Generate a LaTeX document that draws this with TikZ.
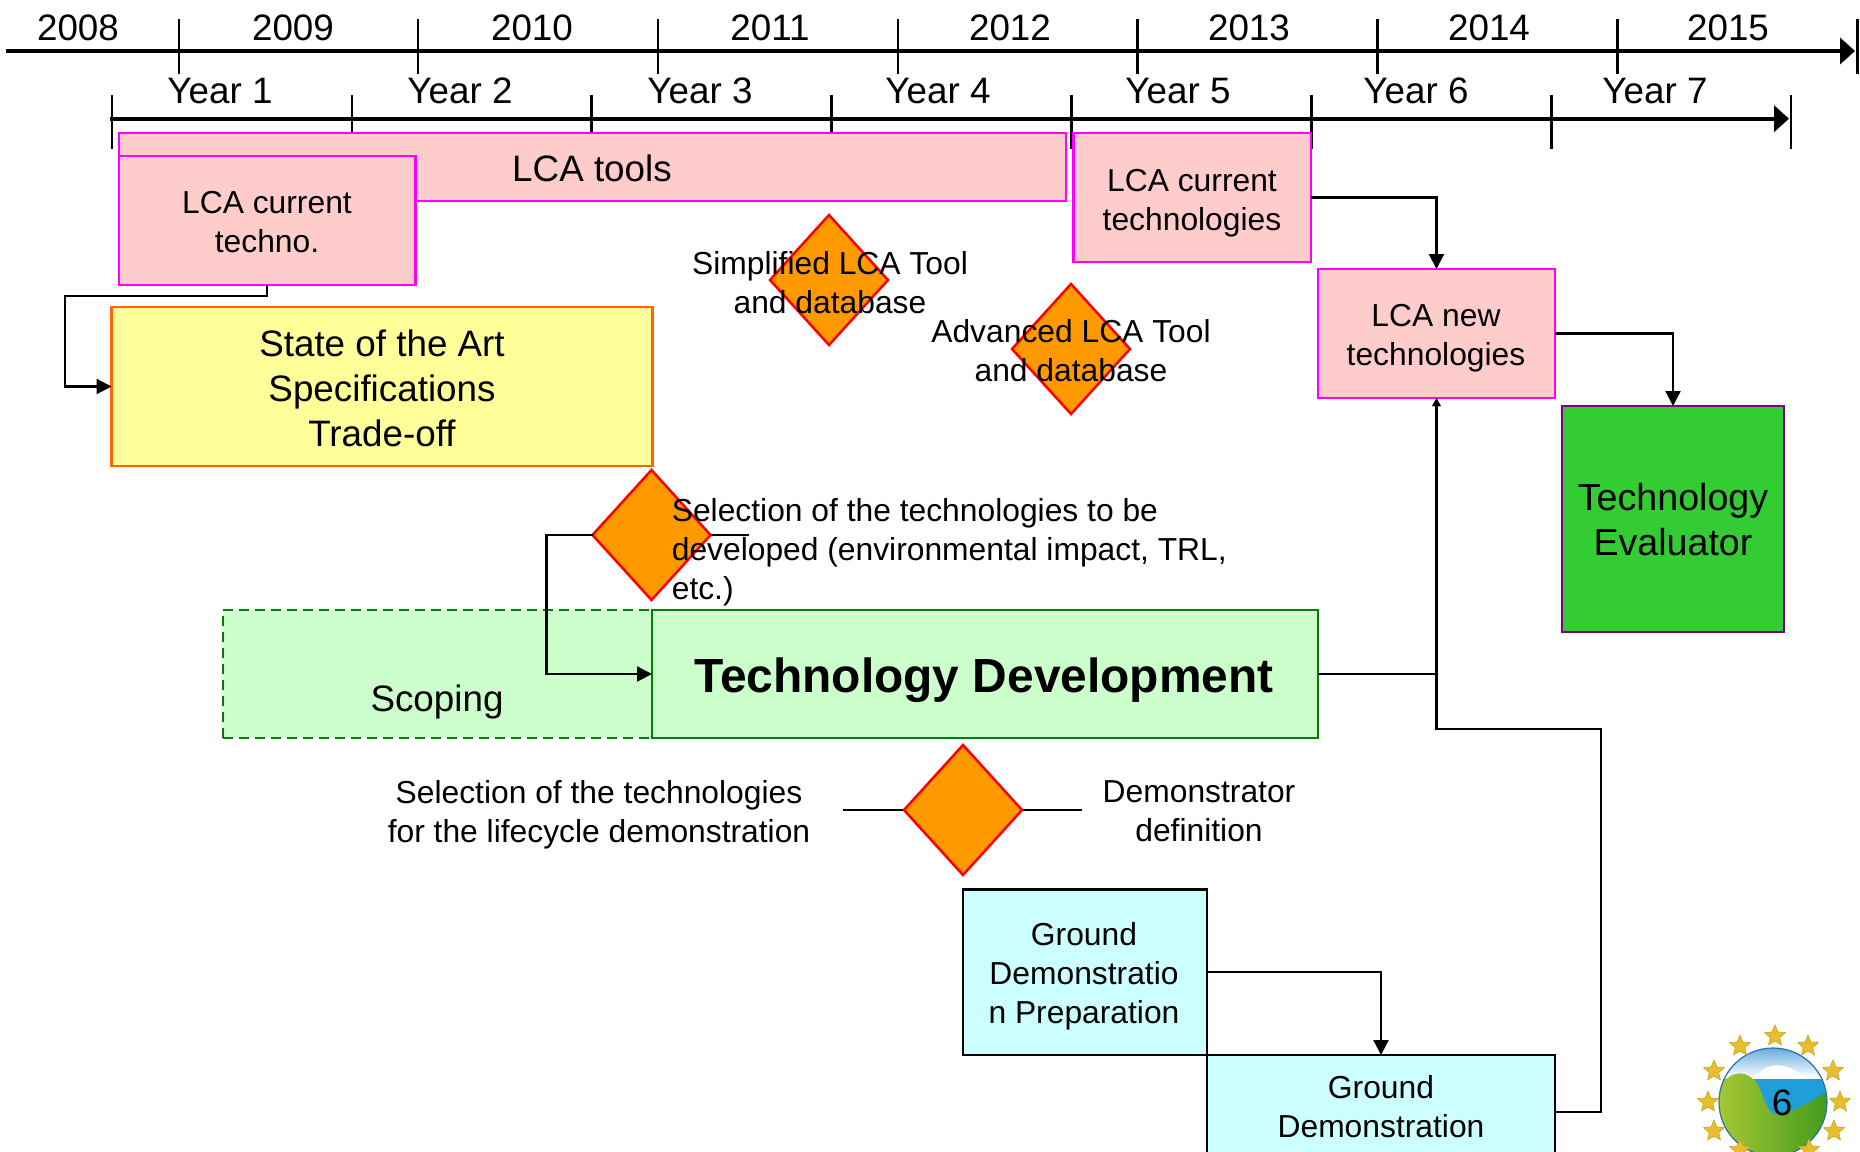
\documentclass[tikz,border=0pt]{standalone}
\usepackage{fontspec}
\setmainfont{Liberation Sans}
\usetikzlibrary{arrows.meta, positioning, shapes.geometric}

\definecolor{lcaline}{HTML}{FF00FF}
\definecolor{lcafill}{HTML}{FFCCCC}
\definecolor{artline}{HTML}{FF6600}
\definecolor{artfill}{HTML}{FFFF99}
\definecolor{devline}{HTML}{008000}
\definecolor{devfill}{HTML}{CCFFCC}
\definecolor{groundfill}{HTML}{CCFFFF}
\definecolor{evalline}{HTML}{800080}
\definecolor{evalfill}{HTML}{33CC33}
\definecolor{milestone}{HTML}{FF9900}
\definecolor{starfill}{HTML}{E8BE2C}
\definecolor{starline}{HTML}{C9A227}
\definecolor{skytop}{HTML}{5AA5DC}
\definecolor{water}{HTML}{1E9FD8}
\definecolor{hilllight}{HTML}{A9C936}
\definecolor{hilldark}{HTML}{3F9A1C}
\definecolor{globerim}{HTML}{2F6FA8}

\begin{document}
\begin{tikzpicture}[
    x = 0.5pt, y = -0.5pt, % one unit is one pixel of the slide
    > = {Triangle[length=7.5pt, width=7.5pt]}, % arrow head style
    line width = 1.15pt,
    font=\fontsize{15.9}{19.4}\selectfont
]

\tikzstyle{bigtext}=[font=\fontsize{18.4}{22.5}\selectfont, align=center]
\tikzstyle{smalltext}=[align=center]
\tikzstyle{axis}=[line width = 2pt]
\tikzstyle{yeartick}=[line width = 1.1pt]
\tikzstyle{box}=[rectangle, inner sep = 0pt, outer sep = 0pt, line width = 1.4pt, anchor=north west]
\tikzstyle{lca}=[box, draw = lcaline, fill = lcafill]
\tikzstyle{dev}=[box, draw = devline, fill = devfill]
\tikzstyle{ground}=[box, draw = black, fill = groundfill]
\tikzstyle{gate}=[diamond, draw = red, fill = milestone, inner sep = 0pt, outer sep = 0pt,
    line width = 1.25pt, minimum width = 59pt, minimum height = 65pt]
\tikzstyle{eustar}=[star, star points = 5, star point ratio = 2.2, inner sep = 0pt,
    minimum size = 11pt, fill = starfill, draw = starline, line width = 0.3pt]

\clip (0,0) rectangle (1860,1152);
\useasboundingbox (0,0) rectangle (1860,1152);

% calendar years
\coordinate (calstart) at (6,51);
\coordinate (calend) at (1855,51);
\draw[axis, -{Triangle[length=7.5pt, width=13pt]}] (calstart) -- (calend);
\draw[yeartick] (178.6,19) -- (178.6,74);
\draw[yeartick] (418.3,19) -- (418.3,74);
\draw[yeartick] (658,19) -- (658,74);
\draw[yeartick] (897.7,19) -- (897.7,74);
\draw[yeartick] (1137.4,19) -- (1137.4,74);
\draw[yeartick] (1377.5,19) -- (1377.5,74);
\draw[yeartick] (1617.5,19) -- (1617.5,74);
\draw[yeartick] (1857.5,19) -- (1857.5,74);
\node[bigtext] (y2008) at (78,27.5) {2008};
\node[bigtext] (y2009) at (293,27.5) {2009};
\node[bigtext] (y2010) at (532,27.5) {2010};
\node[bigtext] (y2011) at (770,27.5) {2011};
\node[bigtext] (y2012) at (1010,27.5) {2012};
\node[bigtext] (y2013) at (1249,27.5) {2013};
\node[bigtext] (y2014) at (1489,27.5) {2014};
\node[bigtext] (y2015) at (1728,27.5) {2015};

% project years
\coordinate (projstart) at (110,118.7);
\coordinate (projend) at (1789,118.7);
\draw[axis, -{Triangle[length=7.5pt, width=13pt]}] (projstart) -- (projend);
\draw[yeartick] (111.6,95) -- (111.6,149);
\draw[yeartick] (351.6,95) -- (351.6,149);
\draw[yeartick] (591.5,95) -- (591.5,149);
\draw[yeartick] (831.5,95) -- (831.5,149);
\draw[yeartick] (1071.5,95) -- (1071.5,149);
\draw[yeartick] (1311.5,95) -- (1311.5,149);
\draw[yeartick] (1551.5,95) -- (1551.5,149);
\draw[yeartick] (1791,95) -- (1791,149);
\node[bigtext] (year1) at (220,91) {Year 1};
\node[bigtext] (year2) at (460,91) {Year 2};
\node[bigtext] (year3) at (700,91) {Year 3};
\node[bigtext] (year4) at (938,91) {Year 4};
\node[bigtext] (year5) at (1178,91) {Year 5};
\node[bigtext] (year6) at (1416,91) {Year 6};
\node[bigtext] (year7) at (1655,91) {Year 7};

% LCA boxes
\node[lca, minimum width = 473.5pt, minimum height = 34pt] (tools) at (119,133) {};
\node[bigtext] (toolstext) at (592,168) {LCA tools};
\node[lca, minimum width = 148.3pt, minimum height = 64.5pt] (techno) at (119,156) {};
\node[smalltext] (technotext) at (267,222) {LCA current\\techno.};
\node[lca, minimum width = 118.75pt, minimum height = 64.5pt] (current) at (1073.5,133) {};
\node[smalltext] (currenttext) at (1192,203) {LCA current\\technologies};
\node[lca, minimum width = 118.5pt, minimum height = 64.5pt] (new) at (1318,269) {};
\node[smalltext] (newtext) at (1436,338) {LCA new\\technologies};
\node[box, draw = artline, fill = artfill, minimum width = 270.5pt, minimum height = 79.5pt] (art) at (111.5,307) {};
\node[bigtext] (arttext) at (382,388) {State of the Art\\Specifications\\Trade-off};
\node[box, draw = evalline, fill = evalfill, minimum width = 111pt, minimum height = 113pt] (evaluator) at (1562,406) {};
\node[bigtext, font=\fontsize{18.8}{22.5}\selectfont] (evaluatortext) at (1673,520) {Technology\\Evaluator};

% development row
\node[dev, minimum width = 333pt, minimum height = 64pt] (devbox) at (652,610) {};
\node[dev, dash pattern=on 5pt off 3pt, anchor=east, left=0pt of devbox, minimum width = 214.5pt, minimum height = 64pt] (scoping) {};
\node[bigtext] (scopingtext) at (437,702) {Scoping};
\draw[devline, line width = 1.4pt] (devbox.north west) -- (devbox.south west);
\node[font=\fontsize{23.95}{28}\selectfont\bfseries] (devtext) at (984,680) {Technology Development};

% ground boxes
\node[ground, minimum width = 122pt, minimum height = 82.75pt] (prep) at (963,889.5) {};
\node[smalltext] (preptext) at (1084,976.5) {Ground\\Demonstratio\\n Preparation};
\node[ground, anchor=north west, below right=0pt and 0pt of prep.south east, minimum width = 174pt, minimum height = 57pt] (demo) {};
\node[smalltext] (demotext) at (1381,1107) {Ground\\Demonstration};

% milestones
\coordinate (stubone) at (749,535);
\coordinate (stubtwo) at (843,810);
\coordinate (stubthree) at (1082,810);
\draw (stubone) -- (651,535);
\draw (stubtwo) -- (stubthree);
\node[gate] (simple) at (829,280) {};
\node[gate] (advanced) at (1071,349) {};
\node[gate] (select) at (651.5,535) {};
\node[gate] (lifecycle) at (963,810) {};
\node[smalltext] (simpletext) at (830,283) {Simplified LCA Tool\\and database};
\node[smalltext] (advancedtext) at (1071,351) {Advanced LCA Tool\\and database};
\node[smalltext, align=left, anchor=west] (selecttext) at (664,552) {Selection of the technologies to be\\developed (environmental impact, TRL,\\etc.)};
\node[smalltext] (lifecycletext) at (599,814.5) {Selection of the technologies\\for the lifecycle demonstration};
\node[smalltext] (definitiontext) at (1199,811.5) {Demonstrator\\definition};

% connectors
\coordinate (technobend) at (65,296);
\coordinate (demobend) at (1601,729);
\draw[->] (techno.south) |- (technobend) |- (art.west);
\draw[->] (current.east) -| (new.north);
\draw[->] (new.east) -| (evaluator.north);
\draw[->] (select.west) -- ++(-46,0) |- (devbox.west);
\draw[-{Triangle[length=4pt, width=4pt]}] (devbox.east) -| (new.south);
\draw[-{Triangle[length=4pt, width=4pt]}] (demo.east) -| (demobend) -| (new.south);
\draw[->] (prep.east) -| (demo.north);

% logo
\begin{scope}
    \clip (1773,1102) circle (54);
    \fill[water] (1715,1045) rectangle (1831,1160);
    \shade[top color = skytop, bottom color = white] (1715,1045) rectangle (1831,1078);
    \fill[white] (1755,1078) .. controls (1765,1062) and (1785,1060) .. (1808,1079) -- cycle;
    \shade[left color = hilllight, right color = hilldark]
        (1715,1092) .. controls (1725,1075) and (1742,1065) .. (1757,1083)
        .. controls (1764,1095) and (1766,1112) .. (1776,1115)
        .. controls (1795,1112) and (1815,1100) .. (1831,1088)
        -- (1831,1160) -- (1715,1160) -- cycle;
\end{scope}
\node[circle, draw = globerim, minimum size = 54pt, inner sep = 0pt, line width = 0.6pt] (globe) at (1773,1102) {};
\node[eustar] (star1) at (1775,1036) {};
\node[eustar] (star2) at (1740,1046) {};
\node[eustar] (star3) at (1808,1046) {};
\node[eustar] (star4) at (1714,1071) {};
\node[eustar] (star5) at (1833,1071) {};
\node[eustar] (star6) at (1708,1102) {};
\node[eustar] (star7) at (1840,1102) {};
\node[eustar] (star8) at (1714,1131) {};
\node[eustar] (star9) at (1834,1131) {};
\node[eustar] (star10) at (1740,1150) {};
\node[eustar] (star11) at (1809,1150) {};
\node[bigtext] (pagenumber) at (1782,1103) {6};
\end{tikzpicture}
\end{document}
